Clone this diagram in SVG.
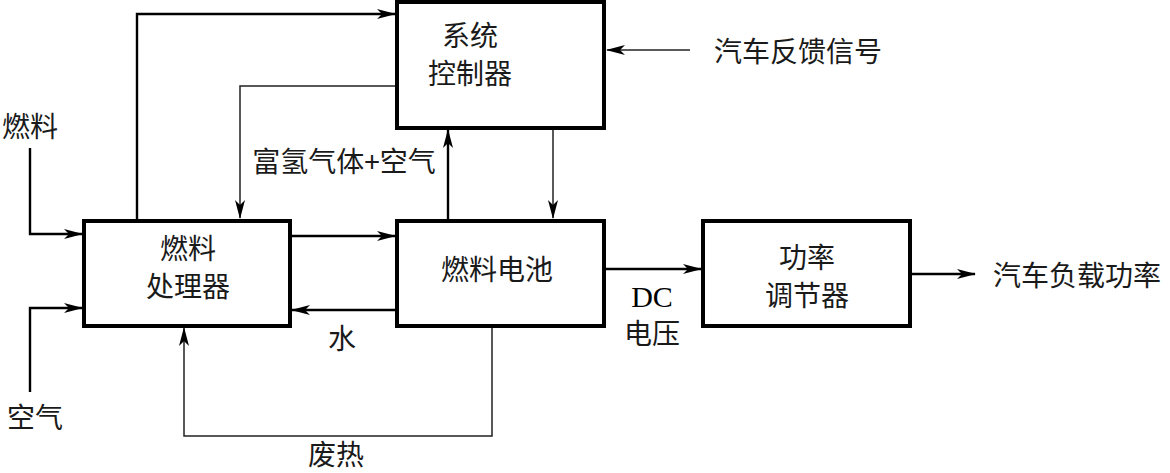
<svg xmlns="http://www.w3.org/2000/svg" width="1170" height="473" viewBox="0 0 1170 473">
<style>
.box{fill:#fff;stroke:#000;stroke-width:4}
.t{font-family:"Noto Sans CJK SC","Liberation Serif",sans-serif;font-size:28px;fill:#1a1a1a;text-anchor:middle;dominant-baseline:central}
.s{font-family:"Liberation Serif",serif;font-size:30px;fill:#000;text-anchor:middle;dominant-baseline:central}
.c{fill:none;stroke:#000;stroke-width:2.4}
.c2{fill:none;stroke:#222;stroke-width:1.5}
</style>
<defs>
<marker id="a" markerUnits="userSpaceOnUse" markerWidth="20" markerHeight="10" refX="18" refY="5" orient="auto">
<path d="M0,0 L19,5 L0,10 L5,5 z" fill="#000"/>
</marker>
</defs>
<g id="connectors">
<polyline class="c" points="30,148 30,234 82,234" marker-end="url(#a)"/>
<polyline class="c" points="30,392 30,308 82,308" marker-end="url(#a)"/>
<polyline class="c" points="137,220 137,14 395,14" marker-end="url(#a)"/>
<polyline class="c2" points="397,86 240,86 240,218" marker-end="url(#a)"/>
<polyline class="c" points="448,220 448,130" marker-end="url(#a)"/>
<polyline class="c2" points="553,128 553,218" marker-end="url(#a)"/>
<polyline class="c2" points="690,50 607,50" marker-end="url(#a)"/>
<polyline class="c" points="290,236 395,236" marker-end="url(#a)"/>
<polyline class="c" points="397,310 292,310" marker-end="url(#a)"/>
<polyline class="c2" points="492,326 492,436 184,436 184,328" marker-end="url(#a)"/>
<polyline class="c" points="604,269 701,269" marker-end="url(#a)"/>
<polyline class="c" points="910,274 975,274" marker-end="url(#a)"/>
</g>
<g id="controller">
<rect class="box" x="397" y="2" width="207" height="126"/>
<text class="t" x="470" y="34">系统</text>
<text class="t" x="470" y="72">控制器</text>
</g>
<g id="processor">
<rect class="box" x="84" y="221" width="206" height="105"/>
<text class="t" x="188" y="247">燃料</text>
<text class="t" x="188" y="285">处理器</text>
</g>
<g id="fuelcell">
<rect class="box" x="397" y="221" width="207" height="105"/>
<text class="t" x="497" y="268">燃料电池</text>
</g>
<g id="regulator">
<rect class="box" x="703" y="221" width="207" height="105"/>
<text class="t" x="807" y="256">功率</text>
<text class="t" x="807" y="294">调节器</text>
</g>
<g id="labels">
<text class="t" x="30" y="125">燃料</text>
<text class="t" x="35" y="416">空气</text>
<text class="t" x="344" y="160">富氢气体+空气</text>
<text class="t" x="798" y="50">汽车反馈信号</text>
<text class="t" x="342" y="337">水</text>
<text class="t" x="336" y="453">废热</text>
<text class="s" x="652" y="296">DC</text>
<text class="t" x="652" y="332">电压</text>
<text class="t" x="1077" y="274">汽车负载功率</text>
</g>
</svg>
